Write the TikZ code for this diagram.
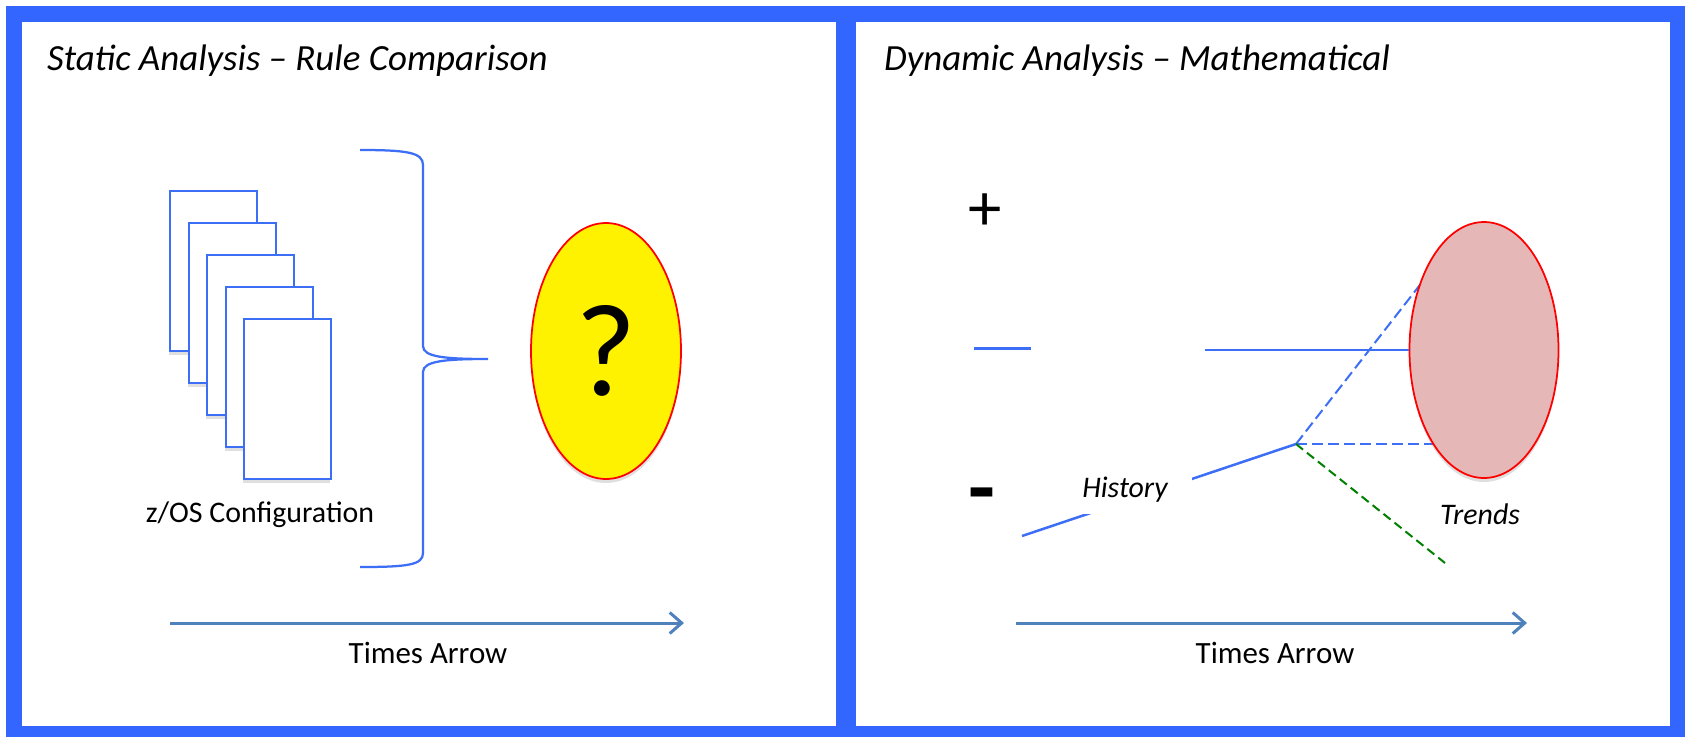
\documentclass[tikz,border=0pt]{standalone}
\usepackage{fontspec}
\setmainfont{Carlito}
\usepackage{xcolor}
\usepackage{tikz}
\usetikzlibrary{positioning, arrows.meta, shapes.geometric, shadows}
\definecolor{frameBlue}{RGB}{51, 102, 255}
\definecolor{lineBlue}{RGB}{61, 110, 246}
\definecolor{arrowBlue}{RGB}{79, 129, 189}
\definecolor{trendGreen}{RGB}{0, 128, 0}
\definecolor{trendPink}{RGB}{229, 184, 183}

\begin{document}
\begin{tikzpicture}[
    font=\fontsize{17pt}{20pt}\selectfont,
    paneltitle/.style={anchor=base west, font=\fontsize{21pt}{25pt}\selectfont\itshape},
    cfgpage/.style={rectangle, draw=lineBlue, fill=white, line width=0.04cm,
        minimum width=1.74cm, minimum height=3.2cm,
        drop shadow={opacity=0.25, shadow xshift=-0.02cm, shadow yshift=-0.07cm}},
    blob/.style={ellipse, draw=red, line width=0.035cm, inner sep=0pt,
        minimum width=3cm, minimum height=5.12cm,
        drop shadow={opacity=0.25, shadow xshift=0cm, shadow yshift=-0.08cm}},
    timearr/.style={-{Straight Barb[length=0.24cm, width=0.42cm]}, line width=0.06cm, arrowBlue},
    plotline/.style={line width=0.05cm, lineBlue},
    trendline/.style={line width=0.04cm, dash pattern=on 0.22cm off 0.1cm}
]
\useasboundingbox (0,0) rectangle (33.7,-14.74);
\fill[frameBlue] (0.12,-0.12) rectangle (33.7,-14.74);
\fill[white] (0.44,-0.44) rectangle (16.72,-14.52);
\fill[white] (17.12,-0.44) rectangle (33.4,-14.52);

\node[paneltitle] (statTitle) at (0.82,-1.4) {Static Analysis – Rule Comparison};
\node[paneltitle] (dynTitle)  at (17.56,-1.4) {Dynamic Analysis – Mathematical};

\node[cfgpage] (page1) at (4.27,-5.42) {};
\node[cfgpage] (page2) at (4.64,-6.06) {};
\node[cfgpage] (page3) at (5.01,-6.70) {};
\node[cfgpage] (page4) at (5.38,-7.34) {};
\node[cfgpage] (page5) at (5.75,-7.98) {};
\node[anchor=base] (cfgLabel) at (5.2,-10.44) {z/OS Configuration};

\coordinate (braceTop) at (7.2,-3.0);
\coordinate (braceTip) at (9.76,-7.18);
\coordinate (braceBot) at (7.2,-11.34);
\draw[line width=0.045cm, lineBlue] (braceTop) .. controls (8.15,-3.0) and (8.46,-3.05) .. (8.46,-3.3)
    -- (8.46,-6.92) .. controls (8.46,-7.14) and (8.9,-7.18) .. (braceTip)
    .. controls (8.9,-7.18) and (8.46,-7.22) .. (8.46,-7.44)
    -- (8.46,-11.06) .. controls (8.46,-11.3) and (8.15,-11.34) .. (braceBot);

\node[blob, fill=yellow] (unknown) at (12.12,-7.02) {\fontsize{75pt}{80pt}\selectfont ?};

\coordinate (timeA) at (3.4,-12.46);
\coordinate (timeB) at (13.68,-12.46);
\draw[timearr] (timeA) -- (timeB);
\node[anchor=base, font=\fontsize{17.6pt}{20pt}\selectfont] (timeLabelL) at (8.56,-13.26) {Times Arrow};

\node (plus)  at (19.7,-4.24) {\fontsize{38pt}{40pt}\selectfont +};
\node (minus) at (19.64,-10.06) {\fontsize{50pt}{52pt}\selectfont\bfseries -};

\coordinate (levelA) at (19.48,-6.97);
\coordinate (levelB) at (20.62,-6.97);
\coordinate (levelC) at (24.1,-7.0);
\coordinate (histStart) at (20.44,-10.72);
\coordinate (now) at (25.92,-8.88);
\coordinate (upEnd) at (28.6,-5.44);
\coordinate (flatEnd) at (29.0,-8.88);
\coordinate (downEnd) at (28.9,-11.26);

\draw[plotline] (levelA) -- (levelB);
\draw[plotline] (histStart) -- (now);
\draw[trendline, lineBlue] (now) -- (upEnd);
\draw[trendline, lineBlue] (now) -- (flatEnd);
\draw[trendline, trendGreen, dash pattern=on 0.18cm off 0.1cm] (now) -- (downEnd);

\node[blob, fill=trendPink, minimum width=2.98cm] (forecast) at (29.68,-7.0) {};
\draw[plotline] (levelC) -- (forecast.west);

\node[fill=white, minimum width=2.68cm, minimum height=0.96cm, font=\fontsize{17pt}{20pt}\selectfont\itshape] (history) at (22.5,-9.8) {History};
\node[anchor=base, font=\fontsize{17pt}{20pt}\selectfont\itshape] (trends) at (29.6,-10.48) {Trends};

\coordinate (timeC) at (20.32,-12.46);
\coordinate (timeD) at (30.54,-12.46);
\draw[timearr] (timeC) -- (timeD);
\node[anchor=base, font=\fontsize{17.6pt}{20pt}\selectfont] (timeLabelR) at (25.5,-13.26) {Times Arrow};
\end{tikzpicture}
\end{document}
